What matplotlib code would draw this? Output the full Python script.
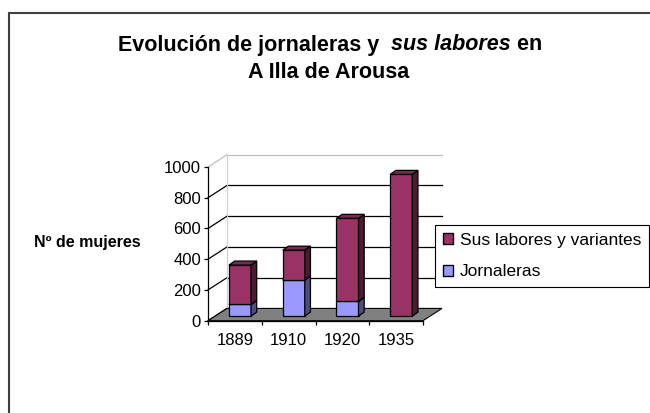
import matplotlib.pyplot as plt
import numpy as np
from matplotlib.patches import Polygon, Rectangle, Patch

years = ["1889", "1910", "1920", "1935"]
jornaleras = [76, 234, 96, 0]
sus_labores = [256, 195, 540, 922]
yticks = [0, 200, 400, 600, 800, 1000]

plum = "#993366"
plum_top = "#7a2952"
plum_side = "#4d1a33"
blue = "#9999ff"
blue_top = "#7a7acc"
blue_side = "#4d4d80"

plt.rcParams['font.family'] = ['Liberation Sans', 'DejaVu Sans']

fig = plt.figure(figsize=(6.5, 4.13), dpi=100)
ax = fig.add_axes([208/650, (413-320.7)/413, 215/650, 153.7/413])
ax.set_xlim(-0.5, 3.5)
ax.set_ylim(0, 1000)
ax.patch.set_visible(False)

# 3d look: depth of floor/walls and of the bars (data units)
dx, dy = 0.354, 80
ox, oy = 0.095, 30
bw = 0.41
bdx, bdy = 0.106, 26

# back wall and left wall grid
for v in yticks:
    c = "#c0c0c0" if v == 1000 else "black"
    if v > 0:
        ax.plot([-0.5+dx, 3.5+dx], [v+dy, v+dy], color=c, lw=0.9, zorder=1, clip_on=False)
    ax.plot([-0.5, -0.5+dx], [v, v+dy], color=c, lw=0.9, zorder=1, clip_on=False)
ax.plot([-0.5+dx, -0.5+dx], [dy, 1000+dy], color="#d0d0d0", lw=0.8, zorder=1, clip_on=False)

# floor
floor = Polygon([(-0.5, 0), (3.5, 0), (3.5+dx, dy), (-0.5+dx, dy)], closed=True,
                facecolor="#808080", edgecolor="black", lw=0.8, zorder=1.5, clip_on=False)
ax.add_patch(floor)


def draw_block(i, base, h, front, top, side):
    x0 = i - bw/2 + ox
    x1 = i + bw/2 + ox
    y0 = base + oy
    y1 = base + h + oy
    kw = dict(edgecolor="black", lw=0.9, zorder=3, clip_on=False)
    ax.add_patch(Rectangle((x0, y0), bw, h, facecolor=front, **kw))
    ax.add_patch(Polygon([(x1, y0), (x1+bdx, y0+bdy), (x1+bdx, y1+bdy), (x1, y1)],
                         closed=True, facecolor=side, **kw))
    ax.add_patch(Polygon([(x0, y1), (x1, y1), (x1+bdx, y1+bdy), (x0+bdx, y1+bdy)],
                         closed=True, facecolor=top, **kw))


for i in range(len(years)):
    if jornaleras[i] > 0:
        draw_block(i, 0, jornaleras[i], blue, blue_top, blue_side)
    draw_block(i, jornaleras[i], sus_labores[i], plum, plum_top, plum_side)

# axes
ax.spines['top'].set_visible(False)
ax.spines['right'].set_visible(False)
ax.spines['left'].set_linewidth(0.9)
ax.spines['bottom'].set_linewidth(0.9)
ax.set_yticks(yticks)
ax.tick_params(axis='y', direction='out', length=3, width=0.9, labelsize=12, pad=2)
ax.set_xticks(np.arange(-0.5, 4, 1))
ax.set_xticklabels([])
ax.tick_params(axis='x', which='major', direction='out', length=3, width=0.9)
ax.set_xticks(np.arange(len(years)), minor=True)
ax.set_xticklabels(years, minor=True)
ax.tick_params(axis='x', which='minor', length=0, labelsize=12, pad=9)

fig.text(87/650, 1-243/413, "Nº de mujeres", fontsize=11.5, fontweight='bold',
         ha='center', va='center')

# title with italic part
tsize = 15.5
t1 = fig.text(113/650, 1-45/413, "Evolución de jornaleras y  ", fontsize=tsize,
              fontweight='bold', ha='left', va='center')
t2 = ax.annotate("sus labores", xy=(1, 0), xycoords=t1, fontsize=tsize, style='italic',
                 fontweight='bold', ha='left', va='bottom')
t3 = ax.annotate(" en", xy=(1, 0), xycoords=t2, fontsize=tsize, fontweight='bold',
                 ha='left', va='bottom')
fig.text(329/650, 1-73/413, "A Illa de Arousa", fontsize=tsize, fontweight='bold',
         ha='center', va='center')

fig.canvas.draw()
r = fig.canvas.get_renderer()
left = t1.get_window_extent(r).x0
right = t3.get_window_extent(r).x1
shift = (330 - (left + right)/2) / 650
t1.set_x(t1.get_position()[0] + shift)

# legend
handles = [Patch(facecolor=plum, edgecolor="black"), Patch(facecolor=blue, edgecolor="black")]
leg = fig.legend(handles, ["Sus labores y variantes", "Jornaleras"], loc='upper left',
                 bbox_to_anchor=(435/650, 1-225/413), bbox_transform=fig.transFigure,
                 fancybox=False, edgecolor="black", framealpha=1, borderaxespad=0,
                 handlelength=0.6, handleheight=0.6, handletextpad=0.4,
                 labelspacing=0.95, borderpad=0.45, fontsize=12.5)
leg.get_frame().set_linewidth(0.8)

# chart border
fig.patches.append(Rectangle((8.5/650, -0.05), 1.05, 1-13/413+0.05, transform=fig.transFigure,
                             fill=False, edgecolor="#404040", lw=1.5))

fig.savefig("out.png", dpi=100)
